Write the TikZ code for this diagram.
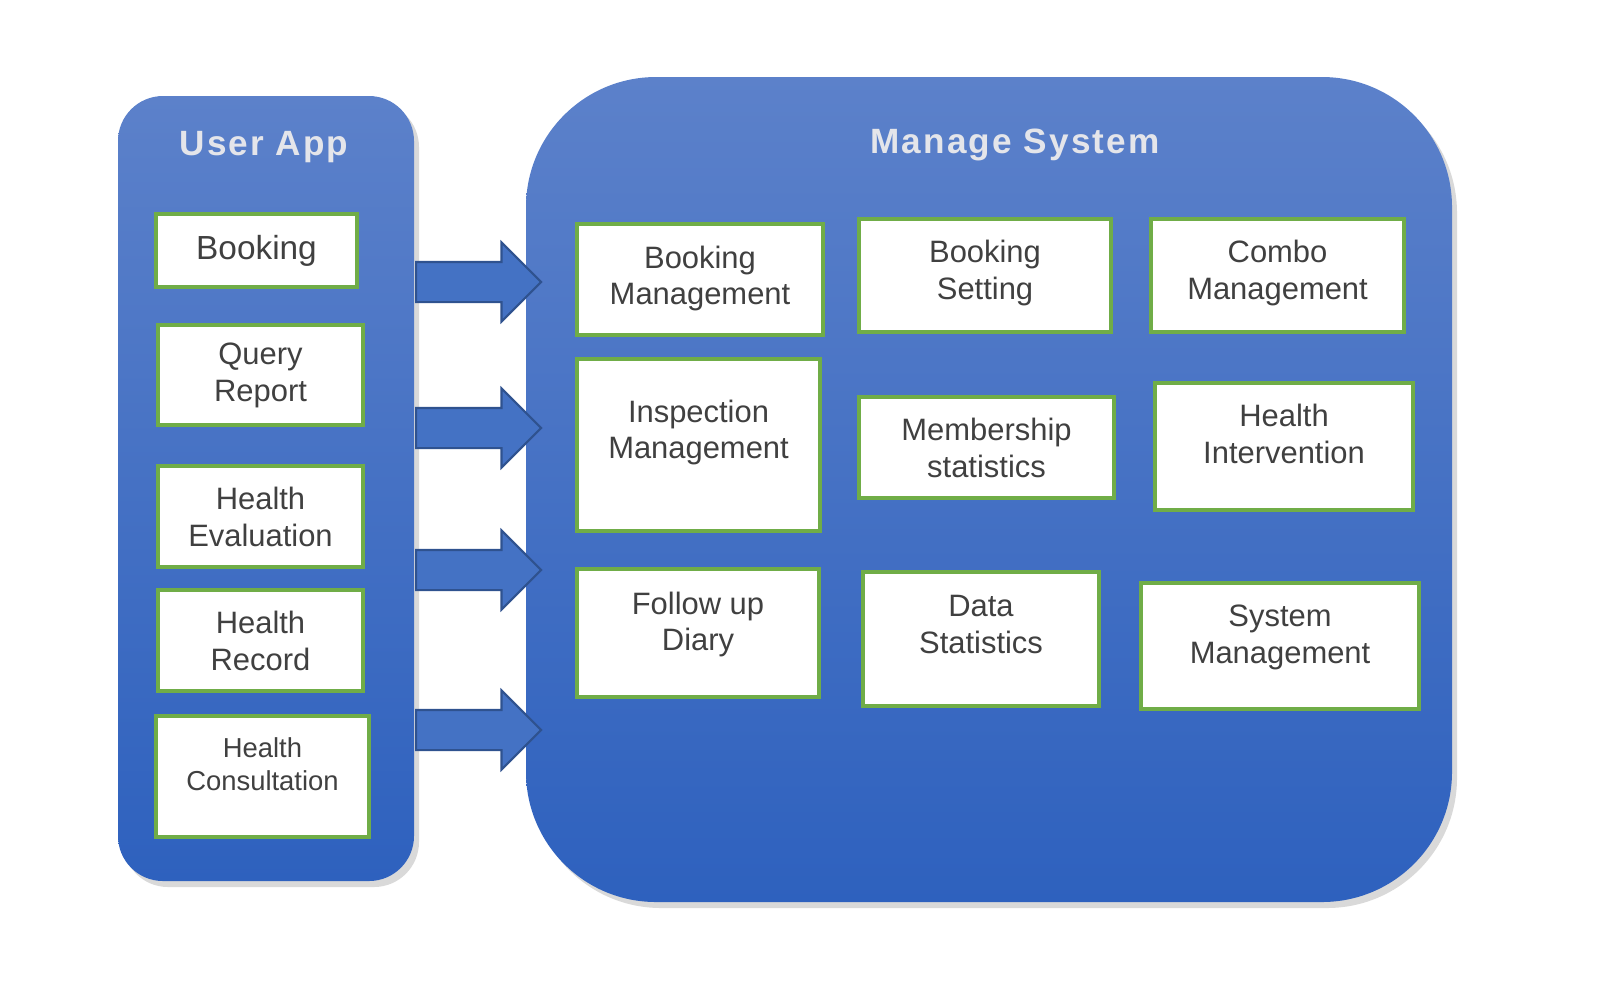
\documentclass[tikz,border=0pt]{standalone}
\usepackage{fontspec}
\setmainfont{Liberation Sans}
\newfontfamily\titlefont[LetterSpace=6]{Liberation Sans}
\usetikzlibrary{shapes.arrows,shadows}
\definecolor{paneltop}{RGB}{92,129,202}
\definecolor{panelbot}{RGB}{46,97,190}
\definecolor{boxgreen}{RGB}{112,173,71}
\definecolor{boxtext}{RGB}{64,64,64}
\definecolor{arrowfill}{RGB}{68,114,196}
\definecolor{arrowline}{RGB}{47,82,143}
\definecolor{titlegray}{RGB}{228,229,234}
\begin{document}
\begin{tikzpicture}[x=0.1mm, y=-0.1mm,
  panel/.style={rectangle, rounded corners=#1, top color=paneltop, bottom color=panelbot, draw=none, drop shadow={shadow xshift=0.5mm, shadow yshift=-0.6mm, opacity=0.3}},
  paneltitle/.style={text=titlegray, font=\titlefont\bfseries\fontsize{10}{12}\selectfont},
  modbox/.style={rectangle, draw=boxgreen, line width=0.4mm, fill=white, text=boxtext, align=center, inner sep=0pt, font=\fontsize{8.8}{10.5}\selectfont},
  boxsize/.style 2 args={minimum width=#1, minimum height=#2},
  lift/.style={text depth=#1},
  bigarrow/.style={single arrow, single arrow head extend=1.95mm, minimum height=12.5mm, inner xsep=0pt, inner ysep=1.9mm, fill=arrowfill, draw=arrowline, line width=0.6pt}]
\useasboundingbox (0,0) rectangle (1613,991);
\node[panel=4.5mm, boxsize={29.6mm}{78.5mm}] (userapp) at (266,488.5) {};
\node[panel=13mm, boxsize={92.6mm}{82.5mm}] (managesys) at (989,489.5) {};
\node[paneltitle] (apptitle) at (264,147) {User App};
\node[paneltitle] (systitle) at (1015,145) {Manage System};
\node[modbox, boxsize={20.1mm}{7.3mm}, font=\fontsize{9.5}{11}\selectfont] (booking) at (256.5,250.5) {Booking};
\node[modbox, boxsize={20.5mm}{10mm}] (query) at (260.5,375) {Query\\Report};
\node[modbox, boxsize={20.5mm}{10.1mm}] (evaluation) at (260.5,516.5) {Health\\Evaluation};
\node[modbox, boxsize={20.5mm}{10.1mm}] (record) at (260.5,640.5) {Health\\Record};
\node[modbox, boxsize={21.3mm}{12.1mm}, lift=2.4mm, font=\fontsize{7.8}{9.4}\selectfont] (consult) at (262.5,776.5) {Health\\Consultation};
\node[modbox, boxsize={24.6mm}{11.1mm}, lift=0.85mm] (bookmgmt) at (700,279.5) {Booking\\Management};
\node[modbox, boxsize={25.2mm}{11.3mm}, lift=1.15mm] (bookset) at (985,275.5) {Booking\\Setting};
\node[modbox, boxsize={25.3mm}{11.3mm}, lift=1.15mm] (combo) at (1277.5,275.5) {Combo\\Management};
\node[modbox, boxsize={24.3mm}{17.2mm}, lift=3.15mm] (inspect) at (698.5,445) {Inspection\\Management};
\node[modbox, boxsize={25.5mm}{10.1mm}] (member) at (986.5,447.5) {Membership\\statistics};
\node[modbox, boxsize={25.8mm}{12.7mm}, lift=2.5mm] (intervene) at (1284,446.5) {Health\\Intervention};
\node[modbox, boxsize={24.2mm}{12.8mm}, lift=2.35mm] (diary) at (698,633) {Follow up\\Diary};
\node[modbox, boxsize={23.6mm}{13.4mm}, lift=2.9mm] (datastat) at (981,639) {Data\\Statistics};
\node[modbox, boxsize={27.8mm}{12.6mm}, lift=2.45mm] (sysmgmt) at (1280,646) {System\\Management};
\node[bigarrow, anchor=tail] (arr1) at (415,282) {};
\node[bigarrow, anchor=tail] (arr2) at (415,428) {};
\node[bigarrow, anchor=tail] (arr3) at (415,570) {};
\node[bigarrow, anchor=tail] (arr4) at (415,730) {};
\end{tikzpicture}
\end{document}
